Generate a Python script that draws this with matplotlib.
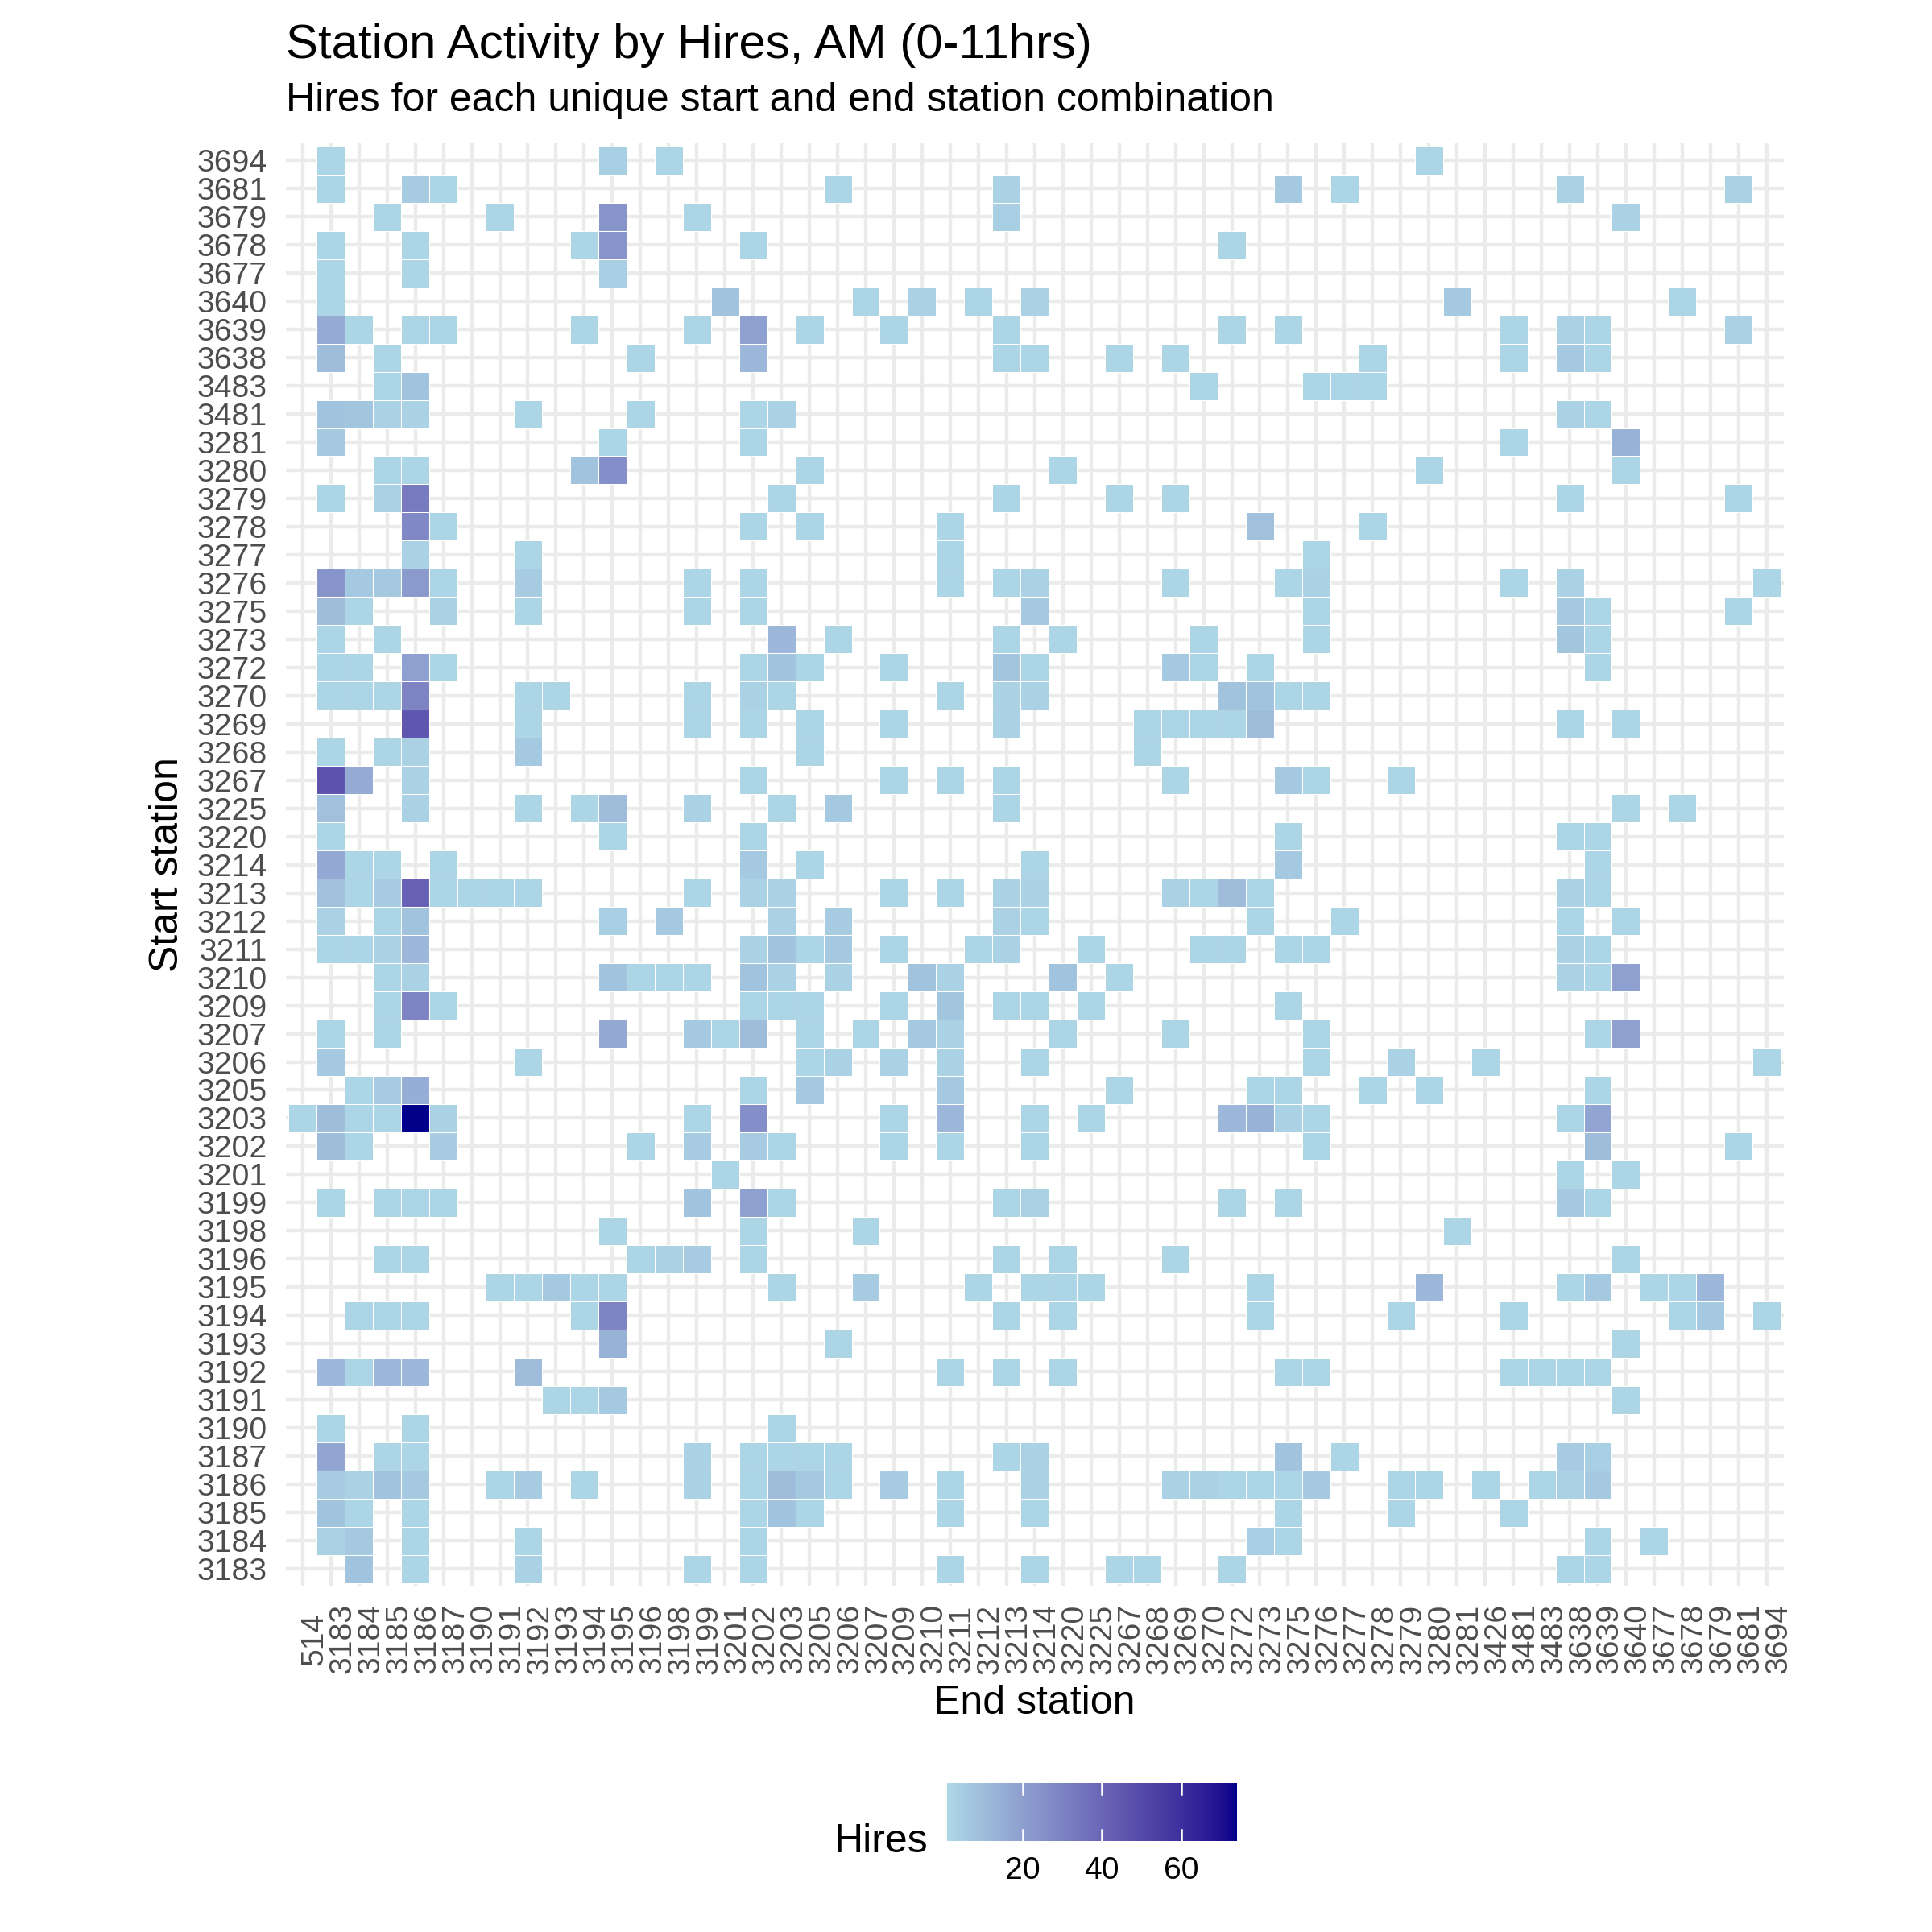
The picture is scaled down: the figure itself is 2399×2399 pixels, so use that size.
import numpy as np
import matplotlib
matplotlib.use("Agg")
import matplotlib.pyplot as plt
import matplotlib.transforms as mtransforms
from matplotlib.colors import ListedColormap, Normalize, to_rgb
from matplotlib.cm import ScalarMappable

plt.rcParams['font.family'] = ['Liberation Sans', 'DejaVu Sans']

# axis categories
end_stations = [514, 3183, 3184, 3185, 3186, 3187, 3190, 3191, 3192, 3193, 3194, 3195, 3196, 3198,
                3199, 3201, 3202, 3203, 3205, 3206, 3207, 3209, 3210, 3211, 3212, 3213, 3214, 3220,
                3225, 3267, 3268, 3269, 3270, 3272, 3273, 3275, 3276, 3277, 3278, 3279, 3280, 3281,
                3426, 3481, 3483, 3638, 3639, 3640, 3677, 3678, 3679, 3681, 3694]
start_axis = [3183, 3184, 3185, 3186, 3187, 3190, 3191, 3192, 3193, 3194, 3195, 3196, 3198, 3199,
              3201, 3202, 3203, 3205, 3206, 3207, 3209, 3210, 3211, 3212, 3213, 3214, 3220, 3225,
              3267, 3268, 3269, 3270, 3272, 3273, 3275, 3276, 3277, 3278, 3279, 3280, 3281, 3481,
              3483, 3638, 3639, 3640, 3677, 3678, 3679, 3681, 3694]

# one entry per start station: the end stations it went to and the hires for each
start_stations = [3694, 3681, 3679, 3678, 3677, 3640, 3639, 3638, 3483, 3481, 3281, 3280, 3279,
                  3278, 3277, 3276, 3275, 3273, 3272, 3270, 3269, 3268, 3267, 3225, 3220, 3214,
                  3213, 3212, 3211, 3210, 3209, 3207, 3206, 3205, 3203, 3202, 3201, 3199, 3198,
                  3196, 3195, 3194, 3193, 3192, 3191, 3190, 3187, 3186, 3185, 3184, 3183]

end_lists = [
    [3183, 3195, 3198, 3280],
    [3183, 3186, 3187, 3206, 3213, 3275, 3277, 3638, 3681],
    [3185, 3191, 3195, 3199, 3213, 3640],
    [3183, 3186, 3194, 3195, 3202, 3272],
    [3183, 3186, 3195],
    [3183, 3201, 3207, 3210, 3212, 3214, 3281, 3678],
    [3183, 3184, 3186, 3187, 3194, 3199, 3202, 3205, 3209, 3213, 3272, 3275, 3481, 3638, 3639, 3681],
    [3183, 3185, 3196, 3202, 3213, 3214, 3267, 3269, 3278, 3481, 3638, 3639],
    [3185, 3186, 3270, 3276, 3277, 3278],
    [3183, 3184, 3185, 3186, 3192, 3196, 3202, 3203, 3638, 3639],
    [3183, 3195, 3202, 3481, 3640],
    [3185, 3186, 3194, 3195, 3205, 3220, 3280, 3640],
    [3183, 3185, 3186, 3203, 3213, 3267, 3269, 3638, 3681],
    [3186, 3187, 3202, 3205, 3211, 3273, 3278],
    [3186, 3192, 3211, 3276],
    [3183, 3184, 3185, 3186, 3187, 3192, 3199, 3202, 3211, 3213, 3214, 3269, 3275, 3276, 3481, 3638, 3694],
    [3183, 3184, 3187, 3192, 3199, 3202, 3214, 3276, 3638, 3639, 3681],
    [3183, 3185, 3203, 3206, 3213, 3220, 3270, 3276, 3638, 3639],
    [3183, 3184, 3186, 3187, 3202, 3203, 3205, 3209, 3213, 3214, 3269, 3270, 3273, 3639],
    [3183, 3184, 3185, 3186, 3192, 3193, 3199, 3202, 3203, 3211, 3213, 3214, 3272, 3273, 3275, 3276],
    [3186, 3192, 3199, 3202, 3205, 3209, 3213, 3268, 3269, 3270, 3272, 3273, 3638, 3640],
    [3183, 3185, 3186, 3192, 3205, 3268],
    [3183, 3184, 3186, 3202, 3209, 3211, 3213, 3269, 3275, 3276, 3279],
    [3183, 3186, 3192, 3194, 3195, 3199, 3203, 3206, 3213, 3640, 3678],
    [3183, 3195, 3202, 3275, 3638, 3639],
    [3183, 3184, 3185, 3187, 3202, 3205, 3214, 3275, 3639],
    [3183, 3184, 3185, 3186, 3187, 3190, 3191, 3192, 3199, 3202, 3203, 3209, 3211, 3213, 3214, 3269,
     3270, 3272, 3273, 3638, 3639],
    [3183, 3185, 3186, 3195, 3198, 3203, 3206, 3213, 3214, 3273, 3277, 3638, 3640],
    [3183, 3184, 3185, 3186, 3202, 3203, 3205, 3206, 3209, 3212, 3213, 3225, 3270, 3272, 3275, 3276,
     3638, 3639],
    [3185, 3186, 3195, 3196, 3198, 3199, 3202, 3203, 3206, 3210, 3211, 3220, 3267, 3638, 3639, 3640],
    [3185, 3186, 3187, 3202, 3203, 3205, 3209, 3211, 3213, 3214, 3225, 3275],
    [3183, 3185, 3195, 3199, 3201, 3202, 3205, 3207, 3210, 3211, 3220, 3269, 3276, 3639, 3640],
    [3183, 3192, 3205, 3206, 3209, 3211, 3214, 3276, 3279, 3426, 3694],
    [3184, 3185, 3186, 3202, 3205, 3211, 3267, 3273, 3275, 3278, 3280, 3639],
    [514, 3183, 3184, 3185, 3186, 3187, 3199, 3202, 3209, 3211, 3214, 3225, 3272, 3273, 3275, 3276,
     3638, 3639],
    [3183, 3184, 3187, 3196, 3199, 3202, 3203, 3209, 3211, 3214, 3276, 3639, 3681],
    [3201, 3638, 3640],
    [3183, 3185, 3186, 3187, 3199, 3202, 3203, 3213, 3214, 3272, 3275, 3638, 3639],
    [3195, 3202, 3207, 3281],
    [3185, 3186, 3196, 3198, 3199, 3202, 3213, 3220, 3269, 3640],
    [3191, 3192, 3193, 3194, 3195, 3203, 3207, 3212, 3214, 3220, 3225, 3273, 3280, 3638, 3639, 3677,
     3678, 3679],
    [3184, 3185, 3186, 3194, 3195, 3213, 3220, 3273, 3279, 3481, 3678, 3679, 3694],
    [3195, 3206, 3640],
    [3183, 3184, 3185, 3186, 3192, 3211, 3213, 3220, 3275, 3276, 3481, 3483, 3638, 3639],
    [3193, 3194, 3195, 3640],
    [3183, 3186, 3203],
    [3183, 3185, 3186, 3199, 3202, 3203, 3205, 3206, 3213, 3214, 3275, 3277, 3638, 3639],
    [3183, 3184, 3185, 3186, 3191, 3192, 3194, 3199, 3202, 3203, 3205, 3206, 3209, 3211, 3214, 3269,
     3270, 3272, 3273, 3275, 3276, 3279, 3280, 3426, 3483, 3638, 3639],
    [3183, 3184, 3186, 3202, 3203, 3205, 3211, 3214, 3275, 3279, 3481],
    [3183, 3184, 3186, 3192, 3202, 3273, 3275, 3639, 3677],
    [3184, 3186, 3192, 3199, 3202, 3211, 3214, 3267, 3268, 3272, 3638, 3639],
]

hires_lists = [
    [2, 4, 2, 2],
    [2, 5, 2, 2, 3, 6, 2, 3, 3],
    [2, 2, 24, 2, 4, 3],
    [2, 2, 2, 24, 2, 2],
    [2, 2, 4],
    [2, 8, 2, 3, 2, 3, 6, 2],
    [16, 2, 2, 2, 2, 2, 20, 2, 2, 2, 2, 2, 2, 3, 2, 3],
    [10, 2, 2, 12, 2, 2, 2, 2, 2, 2, 6, 2],
    [2, 8, 2, 2, 2, 2],
    [8, 7, 3, 3, 2, 2, 2, 3, 3, 2],
    [6, 2, 2, 2, 14],
    [2, 2, 8, 26, 2, 2, 2, 2],
    [2, 3, 33, 2, 2, 2, 2, 2, 2],
    [28, 2, 2, 2, 2, 9, 2],
    [3, 2, 2, 2],
    [24, 6, 6, 22, 2, 5, 2, 2, 2, 2, 3, 2, 2, 3, 2, 3, 2],
    [10, 2, 3, 2, 2, 2, 6, 2, 6, 2, 2],
    [2, 2, 12, 2, 2, 2, 2, 2, 7, 2],
    [2, 2, 20, 2, 2, 8, 2, 2, 7, 2, 6, 2, 2, 2],
    [2, 2, 2, 30, 2, 2, 2, 3, 2, 2, 3, 3, 8, 8, 2, 2],
    [46, 2, 2, 2, 2, 2, 3, 2, 2, 2, 2, 10, 2, 2],
    [2, 2, 3, 6, 2, 2],
    [47, 16, 3, 2, 2, 2, 2, 2, 6, 2, 2],
    [9, 3, 2, 2, 10, 3, 2, 6, 2, 2, 2],
    [2, 2, 2, 2, 2, 2],
    [17, 2, 2, 2, 6, 2, 2, 6, 2],
    [9, 2, 5, 42, 2, 2, 2, 2, 2, 3, 3, 2, 2, 3, 3, 3, 2, 10, 2, 3, 2],
    [3, 2, 8, 4, 6, 3, 5, 3, 2, 2, 2, 2, 2],
    [2, 2, 3, 12, 3, 8, 2, 6, 2, 2, 3, 2, 2, 2, 2, 2, 3, 2],
    [2, 3, 8, 2, 2, 2, 8, 3, 3, 8, 3, 8, 2, 3, 2, 20],
    [2, 30, 2, 2, 2, 2, 2, 7, 2, 2, 2, 2],
    [2, 2, 17, 6, 2, 10, 2, 2, 6, 3, 2, 2, 2, 2, 20],
    [6, 2, 2, 3, 3, 3, 2, 2, 3, 2, 2],
    [2, 5, 15, 2, 6, 6, 2, 2, 2, 2, 2, 2],
    [2, 10, 2, 2, 74, 3, 2, 26, 2, 12, 2, 2, 12, 14, 3, 2, 2, 18],
    [10, 2, 5, 2, 5, 5, 2, 2, 2, 2, 2, 10, 2],
    [2, 2, 2],
    [2, 2, 2, 2, 8, 20, 2, 2, 3, 2, 2, 6, 2],
    [2, 2, 2, 2],
    [2, 2, 2, 3, 5, 2, 2, 2, 2, 2],
    [2, 2, 6, 2, 2, 2, 5, 2, 2, 2, 2, 2, 12, 2, 6, 2, 2, 12],
    [2, 2, 2, 2, 30, 2, 2, 2, 2, 2, 2, 6, 2],
    [14, 2, 2],
    [12, 2, 12, 12, 10, 2, 2, 2, 2, 2, 2, 2, 2, 2],
    [2, 2, 6, 2],
    [2, 2, 2],
    [18, 2, 2, 3, 2, 2, 2, 2, 2, 3, 8, 2, 5, 4],
    [5, 3, 8, 6, 2, 5, 2, 3, 2, 10, 6, 2, 5, 2, 3, 3, 3, 2, 2, 2, 6, 2, 2, 2, 2, 3, 6],
    [8, 2, 2, 2, 8, 2, 2, 2, 2, 2, 2],
    [3, 6, 2, 2, 2, 4, 2, 2, 2],
    [8, 2, 3, 2, 2, 2, 2, 2, 2, 2, 2, 2],
]

hires_min, hires_max = 1, 74


# ggplot style gradient: interpolate lightblue -> darkblue in CIELAB
def srgb_to_lab(rgb):
    c = np.asarray(rgb, float)
    lin = np.where(c <= 0.04045, c / 12.92, ((c + 0.055) / 1.055) ** 2.4)
    m = np.array([[0.4124564, 0.3575761, 0.1804375],
                  [0.2126729, 0.7151522, 0.0721750],
                  [0.0193339, 0.1191920, 0.9503041]])
    xyz = m @ lin / np.array([0.95047, 1.0, 1.08883])
    d = 6 / 29
    f = np.where(xyz > d ** 3, np.cbrt(xyz), xyz / (3 * d * d) + 4 / 29)
    return np.array([116 * f[1] - 16, 500 * (f[0] - f[1]), 200 * (f[1] - f[2])])


def lab_to_srgb(lab):
    L, a, b = lab
    fy = (L + 16) / 116
    fx = fy + a / 500
    fz = fy - b / 200
    d = 6 / 29
    f = np.array([fx, fy, fz])
    xyz = np.where(f > d, f ** 3, 3 * d * d * (f - 4 / 29)) * np.array([0.95047, 1.0, 1.08883])
    m_inv = np.array([[3.2404542, -1.5371385, -0.4985314],
                      [-0.9692660, 1.8760108, 0.0415560],
                      [0.0556434, -0.2040259, 1.0572252]])
    lin = np.clip(m_inv @ xyz, 0, 1)
    c = np.where(lin <= 0.0031308, 12.92 * lin, 1.055 * lin ** (1 / 2.4) - 0.055)
    return np.clip(c, 0, 1)


lab_lo = srgb_to_lab(to_rgb('#ADD8E6'))
lab_hi = srgb_to_lab(to_rgb('#00008B'))
cmap = ListedColormap([lab_to_srgb(lab_lo + (lab_hi - lab_lo) * t) for t in np.linspace(0, 1, 256)])
norm = Normalize(hires_min, hires_max)

W = 2399 / 300
fig = plt.figure(figsize=(W, W), dpi=300)
ax = fig.add_axes([0.1479, 0.1792, 0.7753, 0.7465])

xpos = {s: i for i, s in enumerate(end_stations)}
ypos = {s: i for i, s in enumerate(start_axis)}

for start, ends, vals in zip(start_stations, end_lists, hires_lists, strict=True):
    for e, v in zip(ends, vals, strict=True):
        ax.bar(xpos[e], 1, width=1, bottom=ypos[start] - 0.5, color=cmap(norm(v)),
               edgecolor='white', linewidth=0.25, zorder=2)

ax.set_xlim(-0.6, len(end_stations) - 0.4)
ax.set_ylim(-0.6, len(start_axis) - 0.4)
ax.set_xticks(range(len(end_stations)))
ax.set_xticklabels([str(s) for s in end_stations], rotation=90, ha='center', va='center')
ax.set_yticks(range(len(start_axis)))
ax.set_yticklabels([str(s) for s in start_axis])
ax.tick_params(axis='x', length=0, pad=15.8, labelsize=9.4, labelcolor='#4D4D4D')
ax.tick_params(axis='y', length=0, pad=5.5, labelsize=9.4, labelcolor='#4D4D4D')
shift = mtransforms.ScaledTranslation(15 / 300, 0, fig.dpi_scale_trans)
for lab in ax.get_xticklabels():
    lab.set_transform(lab.get_transform() + shift)

ax.grid(True, color='#EBEBEB', linewidth=1.07)
ax.set_axisbelow(True)
for sp in ax.spines.values():
    sp.set_visible(False)

fig.text(0.1479, 0.970, 'Station Activity by Hires, AM (0-11hrs)', fontsize=14.4, va='baseline')
fig.text(0.1479, 0.9425, 'Hires for each unique start and end station combination', fontsize=12,
         va='baseline')
fig.text(0.5355, 0.113, 'End station', fontsize=12, ha='center', va='baseline')
fig.text(0.092, 0.5524, 'Start station', fontsize=12, ha='center', va='baseline', rotation=90,
         rotation_mode='anchor')

# colour bar legend
cax = fig.add_axes([1176 / 2399, 1 - 2286 / 2399, 360 / 2399, 72 / 2399])
sm = ScalarMappable(norm=norm, cmap=cmap)
cb = fig.colorbar(sm, cax=cax, orientation='horizontal')
cb.outline.set_visible(False)
cb.set_ticks([20, 40, 60])
cax.tick_params(length=0, pad=4.5, labelsize=9.4, labelcolor='black')
for t in [20, 40, 60]:
    cax.plot([t, t], [0, 0.2], color='white', lw=0.6)
    cax.plot([t, t], [0.8, 1], color='white', lw=0.6)
fig.text(1036 / 2399, 1 - 2300 / 2399, 'Hires', fontsize=12, va='baseline')

fig.savefig('out.png', dpi=300, facecolor='white')
